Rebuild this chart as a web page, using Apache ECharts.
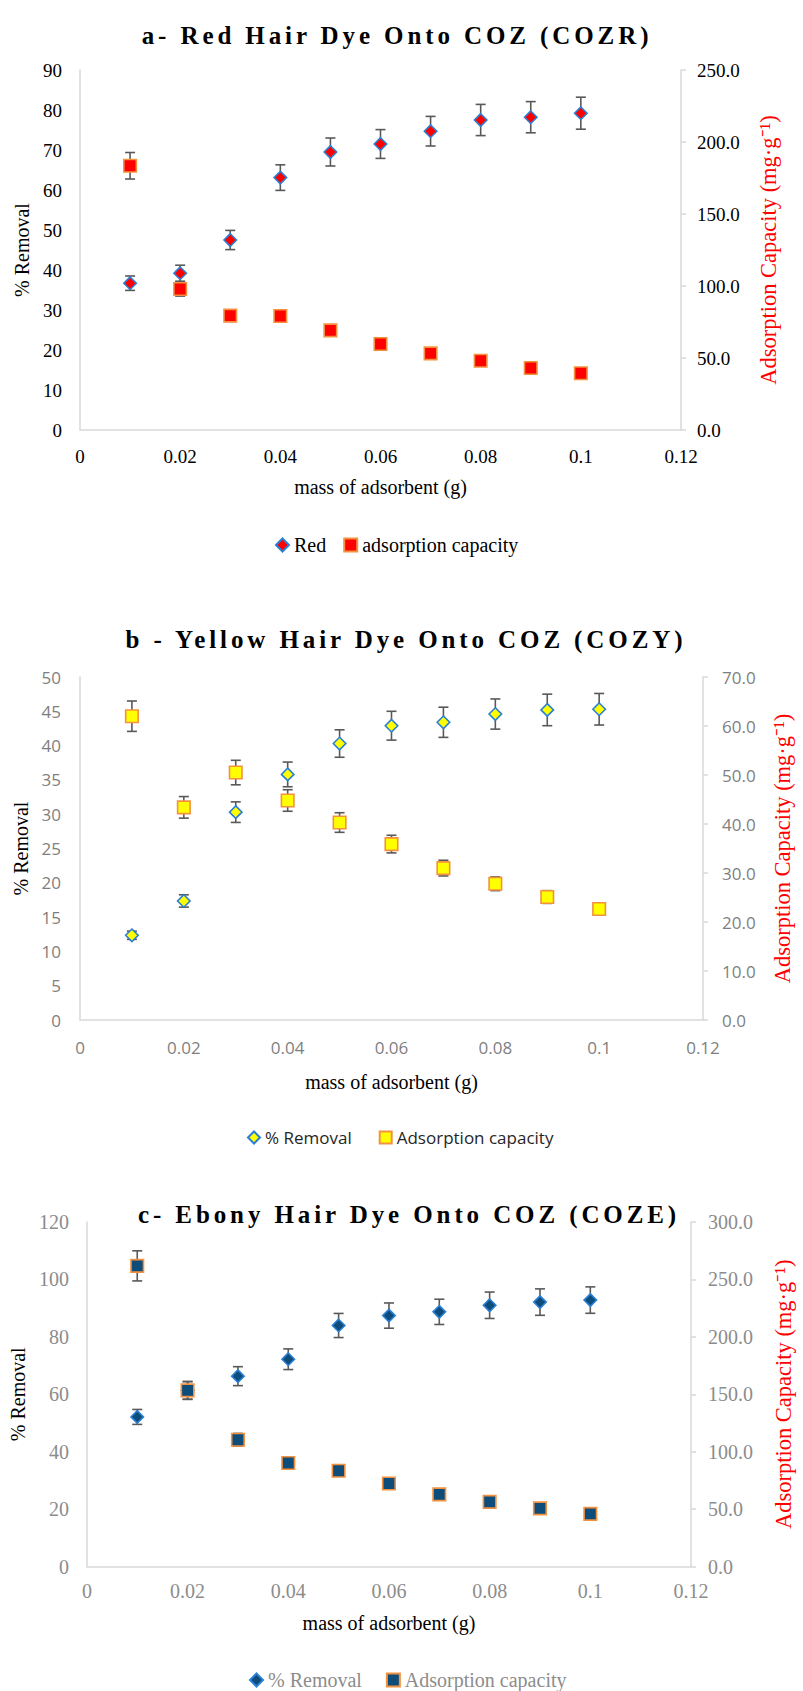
<!DOCTYPE html>
<html>
<head>
<meta charset="utf-8">
<script src="https://cdn.jsdelivr.net/npm/echarts@6/dist/echarts.min.js"></script>
<style>
  html, body { margin: 0; padding: 0; background: #ffffff; }
  #wrap { position: relative; width: 803px; height: 1691px; }
  .panel { position: absolute; left: 0; width: 803px; }
  /* spaced-out bold chart titles */
  .panel svg text[style*="bold"] { letter-spacing: 3.9px; }
</style>
</head>
<body>
<div id="wrap">
  <div id="chartA" class="panel" style="top:0;height:575px"></div>
  <div id="chartB" class="panel" style="top:575px;height:590px"></div>
  <div id="chartC" class="panel" style="top:1165px;height:526px"></div>
</div>
<script>
// Adsorbent doses (g)
const mass = [0.01, 0.02, 0.03, 0.04, 0.05, 0.06, 0.07, 0.08, 0.09, 0.10];
const massTicks = ['0', '0.02', '0.04', '0.06', '0.08', '0.1', '0.12'];

// a - Red hair dye
const redRemoval     = [36.7, 39.2, 47.5, 63.1, 69.5, 71.5, 74.7, 77.5, 78.2, 79.2];
const redRemovalErr  = [1.8, 2.0, 2.4, 3.2, 3.5, 3.6, 3.7, 3.9, 3.9, 4.0];
const redCapacity    = [183.5, 97.9, 79.4, 79.2, 69.2, 59.7, 53.2, 48.1, 43.1, 39.4];
const redCapacityErr = [9.2, 4.9, 4.0, 4.0, 3.5, 3.0, 2.7, 2.4, 2.2, 2.0];

// b - Yellow hair dye
const yellowRemoval     = [12.35, 17.35, 30.3, 35.8, 40.3, 42.9, 43.4, 44.6, 45.2, 45.3];
const yellowRemovalErr  = [0.6, 0.9, 1.5, 1.8, 2.0, 2.1, 2.2, 2.2, 2.3, 2.3];
const yellowCapacity    = [62.0, 43.4, 50.5, 44.8, 40.3, 35.9, 31.0, 27.8, 25.1, 22.65];
const yellowCapacityErr = [3.1, 2.2, 2.5, 2.2, 2.0, 1.8, 1.6, 1.4, 1.3, 1.1];

// c - Ebony hair dye
const ebonyRemoval     = [52.1, 61.3, 66.3, 72.2, 83.95, 87.4, 88.7, 91.0, 92.1, 92.8];
const ebonyRemovalErr  = [2.6, 3.1, 3.3, 3.6, 4.2, 4.4, 4.4, 4.6, 4.6, 4.6];
const ebonyCapacity    = [261.8, 153.4, 110.4, 90.1, 83.4, 72.3, 62.8, 56.3, 50.6, 45.8];
const ebonyCapacityErr = [13.1, 7.7, 5.5, 4.5, 4.2, 3.6, 3.1, 2.8, 2.5, 2.3];

// single quotes keep the family list valid inside SVG style attributes
const SERIF = "'Liberation Serif', 'Times New Roman', serif";
const SANS = "'Open Sans', 'Noto Sans', sans-serif";
const AXIS_GREY = '#d9d9d9';
const ERR_GREY = '#595959';
const BLUE_EDGE = '#2a7fd4';
const ORANGE_EDGE = '#f4913f';

// Vertical error bar with caps, placed through the axis scales
function errorBars(name, xs, ys, errs, yAxisIndex, z) {
  return {
    type: 'custom',
    name: name,
    yAxisIndex: yAxisIndex,
    z: z,
    silent: true,
    encode: { x: 0, y: [1, 2] },
    data: xs.map((x, i) => [x, ys[i] - errs[i], ys[i] + errs[i]]),
    renderItem: function (params, api) {
      const x = api.value(0);
      const lo = api.coord([x, api.value(1)]);
      const hi = api.coord([x, api.value(2)]);
      const w = 5;
      const style = { stroke: ERR_GREY, lineWidth: 1.6, fill: null };
      return {
        type: 'group',
        children: [
          { type: 'line', shape: { x1: lo[0], y1: lo[1], x2: hi[0], y2: hi[1] }, style: style },
          { type: 'line', shape: { x1: lo[0] - w, y1: lo[1], x2: lo[0] + w, y2: lo[1] }, style: style },
          { type: 'line', shape: { x1: hi[0] - w, y1: hi[1], x2: hi[0] + w, y2: hi[1] }, style: style }
        ]
      };
    }
  };
}

function pairs(xs, ys) { return xs.map((x, i) => [x, ys[i]]); }

function buildOption(cfg) {
  const tick = cfg.tick;
  return {
    animation: false,
    backgroundColor: '#ffffff',
    title: {
      text: cfg.title,
      left: cfg.titleX,
      top: cfg.titleTop,
      textAlign: 'center',
      textStyle: { fontFamily: SERIF, fontWeight: 'bold', fontSize: 25, color: '#000000' }
    },
    grid: { left: cfg.grid.left, right: cfg.grid.right, top: cfg.grid.top, height: cfg.grid.height },
    legend: {
      left: cfg.legend.left,
      top: cfg.legend.top,
      itemWidth: cfg.legend.icon,
      itemHeight: cfg.legend.icon,
      itemGap: cfg.legend.gap,
      selectedMode: false,
      textStyle: { fontFamily: cfg.legend.font, fontSize: cfg.legend.size, color: cfg.legend.color },
      data: [
        { name: cfg.names[0], icon: 'diamond' },
        { name: cfg.names[1], icon: 'rect' }
      ]
    },
    xAxis: {
      type: 'value',
      min: 0,
      max: 0.12,
      interval: 0.02,
      splitLine: { show: false },
      axisTick: { show: false },
      axisLine: { show: true, lineStyle: { color: AXIS_GREY, width: 1.5 } },
      axisLabel: {
        margin: tick.xMargin,
        fontFamily: tick.font, fontSize: tick.size, color: tick.color,
        formatter: function (v) { return massTicks[Math.round(v / 0.02)]; }
      },
      name: 'mass of adsorbent (g)',
      nameLocation: 'middle',
      nameGap: cfg.xNameGap,
      nameTextStyle: { fontFamily: SERIF, fontSize: 20, color: '#000000' }
    },
    yAxis: [
      {
        type: 'value',
        position: 'left',
        min: 0,
        max: cfg.leftMax,
        interval: cfg.leftStep,
        splitLine: { show: false },
        axisTick: { show: false },
        axisLine: { show: true, lineStyle: { color: AXIS_GREY, width: 1.5 } },
        axisLabel: { margin: tick.leftMargin, fontFamily: tick.font, fontSize: tick.size, color: tick.color },
        name: '% Removal',
        nameLocation: 'middle',
        nameRotate: 90,
        nameGap: cfg.leftNameGap,
        nameTextStyle: { fontFamily: SERIF, fontSize: 20, color: '#000000' }
      },
      {
        type: 'value',
        position: 'right',
        min: 0,
        max: cfg.rightMax,
        interval: cfg.rightStep,
        splitLine: { show: false },
        axisTick: { show: true, inside: false, length: 5, lineStyle: { color: AXIS_GREY, width: 1.5 } },
        axisLine: { show: true, lineStyle: { color: AXIS_GREY, width: 1.5 } },
        axisLabel: {
          margin: tick.rightMargin, fontFamily: tick.font, fontSize: tick.size, color: tick.color,
          formatter: function (v) { return v.toFixed(1); }
        },
        name: 'Adsorption Capacity (mg\u00b7g\u207b\u00b9)',
        nameLocation: 'middle',
        nameRotate: 90,
        nameGap: cfg.rightNameGap,
        nameTextStyle: { fontFamily: SERIF, fontSize: 22.5, color: '#ff0000' }
      }
    ],
    series: [
      errorBars('removal-error', mass, cfg.removal, cfg.removalErr, 0, 1),
      {
        type: 'scatter',
        name: cfg.names[0],
        yAxisIndex: 0,
        z: 2,
        symbol: 'diamond',
        symbolSize: 12.5,
        itemStyle: { color: cfg.fill, borderColor: BLUE_EDGE, borderWidth: 1.6, opacity: 1 },
        data: pairs(mass, cfg.removal)
      },
      errorBars('capacity-error', mass, cfg.capacity, cfg.capacityErr, 1, 3),
      {
        type: 'scatter',
        name: cfg.names[1],
        yAxisIndex: 1,
        z: 4,
        symbol: 'rect',
        symbolSize: 12.5,
        itemStyle: { color: cfg.fill, borderColor: ORANGE_EDGE, borderWidth: 1.6, opacity: 1 },
        data: pairs(mass, cfg.capacity)
      }
    ]
  };
}

const panels = [
  {
    el: 'chartA',
    title: 'a- Red Hair Dye Onto COZ (COZR)',
    titleX: 392, titleTop: 18,
    grid: { left: 80, right: 122, top: 70, height: 360 },
    legend: { left: 270, top: 530, gap: 17, icon: 13, font: SERIF, size: 20, color: '#000000' },
    names: ['Red', 'adsorption capacity'],
    tick: { font: SERIF, size: 19, color: '#000000', xMargin: 17, leftMargin: 18, rightMargin: 16 },
    xNameGap: 47,
    leftMax: 90, leftStep: 10, rightMax: 250, rightStep: 50,
    leftNameGap: 44, rightNameGap: 76,
    fill: '#ff0000',
    removal: redRemoval, removalErr: redRemovalErr,
    capacity: redCapacity, capacityErr: redCapacityErr
  },
  {
    el: 'chartB',
    title: 'b - Yellow Hair Dye Onto COZ (COZY)',
    titleX: 401, titleTop: 47,
    grid: { left: 80, right: 100, top: 102, height: 343 },
    legend: { left: 242, top: 549, gap: 27, icon: 12, font: SANS, size: 17, color: '#262626' },
    names: ['% Removal', 'Adsorption capacity'],
    tick: { font: SANS, size: 17, color: '#7f7f7f', xMargin: 19, leftMargin: 19, rightMargin: 19 },
    xNameGap: 52,
    leftMax: 50, leftStep: 5, rightMax: 70, rightStep: 10,
    leftNameGap: 42, rightNameGap: 68,
    fill: '#ffff00',
    removal: yellowRemoval, removalErr: yellowRemovalErr,
    capacity: yellowCapacity, capacityErr: yellowCapacityErr
  },
  {
    el: 'chartC',
    title: 'c- Ebony Hair Dye Onto COZ (COZE)',
    titleX: 404, titleTop: 32,
    grid: { left: 86, right: 97, top: 57, height: 344.5 },
    legend: { left: 244, top: 500, gap: 24, icon: 13, font: SERIF, size: 20, color: '#8c8c8c' },
    names: ['% Removal', 'Adsorption capacity'],
    tick: { font: SERIF, size: 20, color: '#8c8c8c', xMargin: 14, leftMargin: 18, rightMargin: 17 },
    xNameGap: 46,
    leftMax: 120, leftStep: 20, rightMax: 300, rightStep: 50,
    leftNameGap: 52, rightNameGap: 81,
    fill: '#0e4c7a',
    removal: ebonyRemoval, removalErr: ebonyRemovalErr,
    capacity: ebonyCapacity, capacityErr: ebonyCapacityErr
  }
];

panels.forEach(function (cfg) {
  const chart = echarts.init(document.getElementById(cfg.el), null, { renderer: 'svg' });
  chart.setOption(buildOption(cfg));
});
</script>
</body>
</html>
